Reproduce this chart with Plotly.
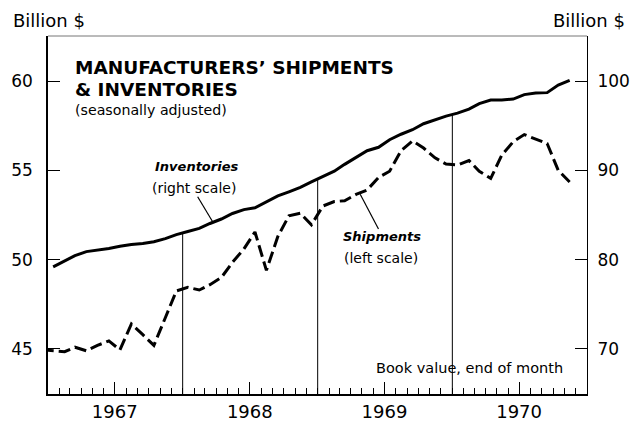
import pandas as pd
import plotly.graph_objects as go

# Monthly observations, Dec 1966 .. Nov 1970
months = [p.strftime("%Y-%m") for p in pd.period_range("1966-12", "1970-11", freq="M")]

# Shipments, billion $ (left scale)
shipments = [44.95,
             44.9, 44.85, 45.1, 44.9, 45.2, 45.45, 44.95, 46.4, 45.8, 45.2, 46.75, 48.25,
             48.45, 48.3, 48.6, 49.0, 49.85, 50.6, 51.55, 49.4, 51.3, 52.45, 52.6, 51.95,
             53.0, 53.25, 53.3, 53.65, 53.9, 54.6, 54.95, 56.1, 56.65, 56.25, 55.7, 55.35,
             55.3, 55.55, 54.95, 54.55, 55.85, 56.6, 57.0, 56.75, 56.5, 55.0, 54.35]

# Inventories, billion $ (right scale)
inventories = [None,
               79.2, 79.9, 80.45, 80.9, 81.07, 81.24, 81.5, 81.7, 81.8, 82.0, 82.36, 82.8,
               83.15, 83.5, 84.05, 84.55, 85.17, 85.6, 85.8, 86.5, 87.13, 87.6, 88.1, 88.7,
               89.33, 89.9, 90.67, 91.4, 92.2, 92.58, 93.43, 94.04, 94.55, 95.22, 95.67, 96.07,
               96.4, 96.85, 97.47, 97.87, 97.87, 97.98, 98.48, 98.65, 98.7, 99.55, 100.06]

year_labels = ["1967", "1968", "1969", "1970"]
left_ticks = [45, 50, 55, 60]
right_ticks = [70, 80, 90, 100]

FONT = "DejaVu Sans"
W, H = 631, 421
L, R, T, B = 47.5, 587, 36, 394   # plot-area edges in pixels

x = [pd.Timestamp(m + "-15") for m in months]

LEFT_RANGE = [42.48, 62.52]
RIGHT_RANGE = [2 * LEFT_RANGE[0] - 20, 2 * LEFT_RANGE[1] - 20]


def px(xp, yp):
    """pixel position -> paper coordinates (for text placement only)"""
    return (xp - L) / (R - L), (B - yp) / (B - T)


fig = go.Figure()
fig.add_trace(go.Scatter(x=x, y=inventories, mode="lines", yaxis="y2",
                         line=dict(color="black", width=3), connectgaps=False,
                         showlegend=False))
fig.add_trace(go.Scatter(x=x, y=shipments, mode="lines", yaxis="y",
                         line=dict(color="black", width=3, dash="12px,5px"),
                         showlegend=False))

shapes = []
# vertical year-boundary lines, rising to the inventory curve
for yr in year_labels[1:]:
    jan = months.index(f"{yr}-01")
    top = (inventories[jan - 1] + inventories[jan]) / 2
    shapes.append(dict(type="line", xref="x", yref="y2", x0=f"{yr}-01-01", x1=f"{yr}-01-01",
                       y0=RIGHT_RANGE[0], y1=top, line=dict(color="black", width=1),
                       layer="below"))
# top frame line
shapes.append(dict(type="line", xref="paper", yref="paper", x0=0, x1=1, y0=1, y1=1,
                   line=dict(color="#777", width=1)))
# pointer lines for the series labels
for (a, b) in [((197.3, 196.7), (212.3, 221.7)), ((360.0, 194.3), (378.3, 229.0))]:
    x0, y0 = px(*a)
    x1, y1 = px(*b)
    shapes.append(dict(type="line", xref="paper", yref="paper", x0=x0, y0=y0,
                       x1=x1, y1=y1, line=dict(color="black", width=1.2)))


def ann(text, xp, yp, size, xanchor="center", bold=False, italic=False):
    t = text
    if bold:
        t = f"<b>{t}</b>"
    if italic:
        t = f"<i>{t}</i>"
    xx, yy = px(xp, yp)
    return dict(text=t, x=xx, y=yy, xref="paper", yref="paper", xanchor=xanchor,
                yanchor="middle", showarrow=False,
                font=dict(family=FONT, size=size, color="black"))


annotations = [
    ann("Billion $", 10, 20, 18, xanchor="left"),
    ann("Billion $", 627, 20, 18, xanchor="right"),
    ann("MANUFACTURERS\u2019 SHIPMENTS", 72.7, 67.5, 18.5, xanchor="left", bold=True),
    ann("&amp; INVENTORIES", 72.7, 89.5, 18.5, xanchor="left", bold=True),
    ann("(seasonally adjusted)", 72.7, 109.5, 14.2, xanchor="left"),
    ann("Inventories", 196, 166.7, 13, bold=True, italic=True),
    ann("(right scale)", 194, 188.3, 14),
    ann("Shipments", 381.5, 236.7, 13, bold=True, italic=True),
    ann("(left scale)", 380.5, 257.7, 14),
    ann("Book value, end of month", 565, 367.7, 14.5, xanchor="right"),
]

fig.update_layout(
    width=W, height=H,
    margin=dict(l=L, r=W - R, t=T, b=H - B),
    paper_bgcolor="white", plot_bgcolor="white",
    font=dict(family=FONT, color="black"),
    shapes=shapes, annotations=annotations,
    xaxis=dict(
        type="date", range=["1967-01-01", "1971-01-01"], automargin=False,
        tickmode="array", tickvals=[f"{y}-07-01" for y in year_labels], ticktext=year_labels,
        ticks="inside", ticklen=12, tickwidth=1, tickcolor="black",
        minor=dict(ticks="inside", ticklen=6, tickwidth=1, tickcolor="black",
                   dtick="M1", tick0="1967-01-01", showgrid=False),
        showline=True, linecolor="black", linewidth=2, showgrid=False, zeroline=False,
        tickfont=dict(family=FONT, size=18), ticklabelstandoff=0,
    ),
    yaxis=dict(
        range=LEFT_RANGE, tickvals=left_ticks, ticks="inside", ticklen=12, automargin=False,
        tickcolor="black", showline=True, linecolor="black", linewidth=1.5,
        showgrid=False, zeroline=False, tickfont=dict(family=FONT, size=17),
        ticklabelstandoff=10,
    ),
    yaxis2=dict(
        range=RIGHT_RANGE, tickvals=right_ticks, ticks="inside", ticklen=12, automargin=False,
        tickcolor="black", overlaying="y", side="right", showline=True,
        linecolor="black", linewidth=1, showgrid=False, zeroline=False,
        tickfont=dict(family=FONT, size=17), ticklabelstandoff=6,
    ),
)

fig.write_html("out.html",
               config={"displayModeBar": False},
               post_script="document.body.style.margin='0';"
                           "document.body.style.overflow='hidden';")
